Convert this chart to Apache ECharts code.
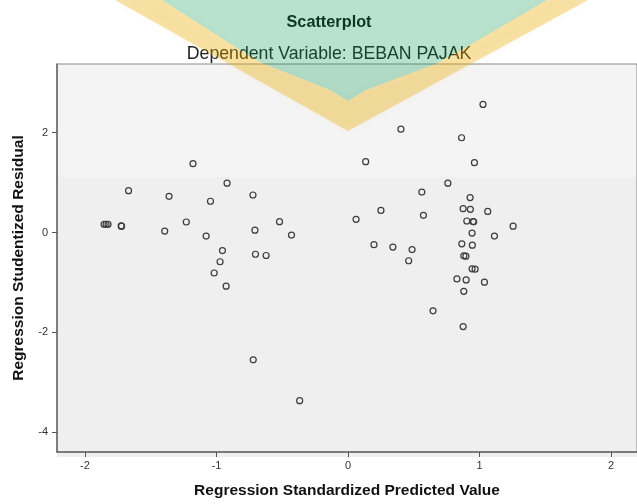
<!DOCTYPE html>
<html>
<head>
<meta charset="utf-8">
<script src="https://cdn.jsdelivr.net/npm/echarts@6/dist/echarts.min.js"></script>
<style>
html,body{margin:0;padding:0;background:#fff;}
#chart{width:637px;height:504px;}
</style>
</head>
<body>
<div id="chart"></div>
<script>
// Regression Standardized Predicted Value (x)
const predicted = [-1.855,-1.840,-1.825,-1.725,-1.722,-1.669,-1.394,-1.361,-1.230,-1.179,-1.079,-1.046,-1.018,-0.973,-0.955,-0.927,-0.920,-0.723,-0.708,-0.704,-0.623,-0.721,-0.521,-0.430,-0.368,
  0.061,0.134,0.197,0.250,0.341,0.402,0.461,0.487,0.561,0.573,0.646,0.759,0.828,0.863,0.865,0.875,0.875,0.880,0.896,0.880,0.898,0.903,0.928,0.930,0.943,0.945,0.943,0.966,0.951,0.955,0.961,1.026,1.037,1.062,1.113,1.255];
// Regression Studentized Residual (y)
const residual = [0.166,0.166,0.166,0.132,0.126,0.838,0.028,0.725,0.211,1.377,-0.071,0.626,-0.810,-0.585,-0.362,-1.073,0.988,0.751,0.047,-0.435,-0.460,-2.549,0.217,-0.051,-3.366,
  0.265,1.417,-0.243,0.443,-0.292,2.069,-0.565,-0.342,0.810,0.344,-1.567,0.988,-0.929,1.897,-0.227,0.478,-1.883,-0.466,-0.474,-1.178,-0.949,0.231,0.700,0.464,-0.012,-0.253,-0.727,-0.733,0.221,0.215,1.397,2.563,-0.994,0.423,-0.071,0.126];
const xTicks = [-2,-1,0,1,2];
const yTicks = [-4,-2,0,2];
const titleText = 'Scatterplot';
const subtitleText = 'Dependent Variable: BEBAN PAJAK';
const xName = 'Regression Standardized Predicted Value';
const yName = 'Regression Studentized Residual';

const points = predicted.map((x, i) => [x, residual[i]]);
const FONT = "'Liberation Sans', Arial, sans-serif";

const chart = echarts.init(document.getElementById('chart'), null, {renderer: 'canvas'});
chart.setOption({
  animation: false,
  backgroundColor: '#ffffff',
  title: [
    {text: titleText, left: 324, top: 10, textAlign: 'center',
     textStyle: {fontFamily: FONT, fontSize: 16.3, fontWeight: 'bold', color: '#111'}},
    {text: subtitleText, left: 324, top: 40, textAlign: 'center',
     textStyle: {fontFamily: FONT, fontSize: 17.7, fontWeight: 'normal', color: '#222'}}
  ],
  grid: {left: 57, top: 64, width: 583, height: 393, show: true,
         borderColor: '#8a8a8a', borderWidth: 1, backgroundColor: 'transparent', containLabel: false},
  xAxis: {
    type: 'value', min: -2.213, max: 2.197,
    name: xName, nameLocation: 'middle', nameGap: 31,
    nameTextStyle: {fontFamily: FONT, fontSize: 15.5, fontWeight: 'bold', color: '#111'},
    axisLine: {show: true, onZero: false, lineStyle: {color: '#666', width: 1.5}},
    axisTick: {show: true, length: 5, customValues: xTicks, lineStyle: {color: '#555', width: 1}},
    axisLabel: {customValues: xTicks, fontFamily: FONT, fontSize: 11, color: '#333', margin: 8},
    splitLine: {show: false}
  },
  yAxis: {
    type: 'value', min: -4.393, max: 3.373,
    name: yName, nameLocation: 'middle', nameGap: 30, nameRotate: 90,
    nameTextStyle: {fontFamily: FONT, fontSize: 15.5, fontWeight: 'bold', color: '#111'},
    axisLine: {show: true, onZero: false, lineStyle: {color: '#666', width: 1.5}},
    axisTick: {show: true, length: 5, customValues: yTicks, lineStyle: {color: '#555', width: 1}},
    axisLabel: {customValues: yTicks, fontFamily: FONT, fontSize: 11, color: '#333', margin: 9},
    splitLine: {show: false}
  },
  graphic: [
    {type: 'rect', z: -10, shape: {x: 57, y: 64, width: 583, height: 393}, style: {fill: '#efefef'}},
    {type: 'rect', z: -9, shape: {x: 57, y: 64, width: 583, height: 113}, style: {fill: 'rgba(255,255,255,0.35)'}},
    {type: 'polygon', z: 100, silent: true,
     shape: {points: [[115,0],[162,0],[240,50],[262,63],[330,90],[348,101],[366,90],[438,63],[470,45],[547,0],[588,0],[348,131]]},
     style: {fill: 'rgba(235,170,0,0.32)', shadowBlur: 6, shadowColor: 'rgba(235,170,0,0.25)'}},
    {type: 'polygon', z: 100, silent: true,
     shape: {points: [[162,0],[240,50],[262,63],[330,90],[348,101],[366,90],[438,63],[470,45],[547,0]]},
     style: {fill: 'rgba(0,150,80,0.28)'}}
  ],
  series: [{
    type: 'scatter',
    data: points,
    symbol: 'circle',
    symbolSize: 6,
    z: 5,
    itemStyle: {color: 'rgba(0,0,0,0)', borderColor: '#3c3c3c', borderWidth: 1.2, opacity: 1}
  }]
});
</script>
</body>
</html>
